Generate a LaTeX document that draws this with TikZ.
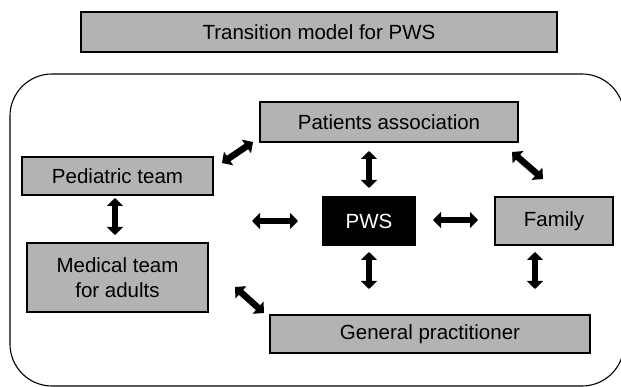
\documentclass[tikz,border=0pt]{standalone}
\usepackage{fontspec}
\setmainfont{Liberation Sans}
\usetikzlibrary{arrows.meta}
\definecolor{boxgrey}{HTML}{B3B3B3}
\tikzset{
  box/.style={draw=black, fill=boxgrey, line width=1.1pt, inner sep=0pt,
    font=\fontsize{20.5}{25}\selectfont, align=center},
  dblarrow/.style={line width=6.5pt, {Triangle[width=16pt,length=8pt]}-{Triangle[width=16pt,length=8pt]}},
}
\begin{document}
\begin{tikzpicture}[x=1pt,y=-1pt]
\useasboundingbox (0,0) rectangle (621,387);
\fill[white] (0,0) rectangle (621,387);
% frame
\draw[line width=1.1pt, rounded corners=42pt] (10,74) rectangle (624,386);
% boxes
\node[box, minimum width=476pt, minimum height=40pt] (title) at (319,32) {Transition model for PWS};
\node[box, minimum width=258pt, minimum height=40pt] (pat) at (389,122) {Patients association};
\node[box, minimum width=191pt, minimum height=38pt] (ped) at (117.5,176) {Pediatric team};
\node[box, minimum width=181pt, minimum height=69pt] (med) at (117.5,277.5) {Medical team\\for adults};
\node[box, fill=black, text=white, minimum width=92pt, minimum height=48pt] (pws) at (369,221) {PWS};
\node[box, minimum width=118pt, minimum height=48pt] (fam) at (554,221) {Family};
\node[box, minimum width=320pt, minimum height=38pt] (gp) at (430,334) {General practitioner};
% arrow end points
\coordinate (a1s) at (222,163); \coordinate (a1e) at (253,142);
\coordinate (a2s) at (115,198); \coordinate (a2e) at (115,235);
\coordinate (a3s) at (252,221); \coordinate (a3e) at (298,221);
\coordinate (a4s) at (369,151); \coordinate (a4e) at (369,188);
\coordinate (a5s) at (433,220); \coordinate (a5e) at (478,220);
\coordinate (a6s) at (512,152); \coordinate (a6e) at (543,179);
\coordinate (a7s) at (369,252); \coordinate (a7e) at (369,289);
\coordinate (a8s) at (535,252); \coordinate (a8e) at (535,289);
\coordinate (a9s) at (235,287); \coordinate (a9e) at (264,313);
\draw[dblarrow] (a1s) -- (a1e);
\draw[dblarrow] (a2s) -- (a2e);
\draw[dblarrow] (a3s) -- (a3e);
\draw[dblarrow] (a4s) -- (a4e);
\draw[dblarrow] (a5s) -- (a5e);
\draw[dblarrow] (a6s) -- (a6e);
\draw[dblarrow] (a7s) -- (a7e);
\draw[dblarrow] (a8s) -- (a8e);
\draw[dblarrow] (a9s) -- (a9e);
\end{tikzpicture}
\end{document}
